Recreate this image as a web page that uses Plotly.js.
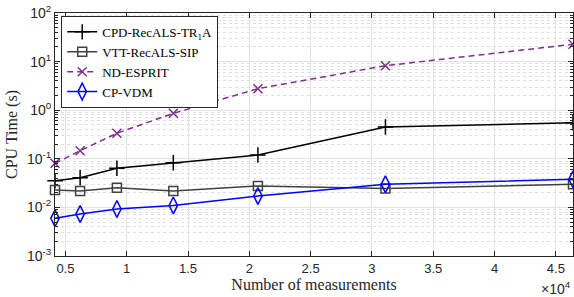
<!DOCTYPE html>
<html><head><meta charset="utf-8">
<script src="https://cdn.plot.ly/plotly-3.0.1.min.js"></script>
<style>html,body{margin:0;padding:0;background:#fff}#chart{width:574px;height:297px}</style>
</head><body><div id="chart"></div>
<script>
const measurements = [4150, 6200, 9200, 13800, 20700, 31100, 46400];
const cpdRecals = [0.0354, 0.0408, 0.0638, 0.083, 0.12, 0.451, 0.55];
const vttRecals = [0.0228, 0.0218, 0.0254, 0.0218, 0.0276, 0.0245, 0.0299];
const ndEsprit = [0.0808, 0.147, 0.335, 0.863, 2.77, 8.24, 22.7];
const cpVdm = [0.00597, 0.00731, 0.00927, 0.011, 0.0172, 0.0299, 0.0379];
const seriesNames = ['CPD-RecALS-TR<sub>1</sub>A', 'VTT-RecALS-SIP', 'ND-ESPRIT', 'CP-VDM'];
const xTickVals = [5000, 10000, 15000, 20000, 25000, 30000, 35000, 40000, 45000];
const xTickText = ['0.5', '1', '1.5', '2', '2.5', '3', '3.5', '4', '4.5'];
const yTickVals = [1e-3, 1e-2, 1e-1, 1, 10, 100];
const yTickText = ['10<sup>-3</sup>', '10<sup>-2</sup>', '10<sup>-1</sup>', '10<sup>0</sup>', '10<sup>1</sup>', '10<sup>2</sup>'];
const minorMultipliers = [2, 3, 4, 5, 6, 7, 8, 9];

const yMinorVals = [];
yTickVals.slice(0, -1).forEach(d => minorMultipliers.forEach(m => yMinorVals.push(d * m)));

const traces = [
  {x: measurements, y: cpdRecals, name: seriesNames[0], mode: 'lines+markers', cliponaxis: false,
   line: {color: '#000000', width: 1.5}, marker: {symbol: 'cross-thin-open', size: 11, color: '#000000', line: {width: 1.5, color: '#000000'}}},
  {x: measurements, y: vttRecals, name: seriesNames[1], mode: 'lines+markers', cliponaxis: false,
   line: {color: '#404040', width: 1.5}, marker: {symbol: 'square-open', size: 9, color: '#404040', line: {width: 1.5, color: '#404040'}}},
  {x: measurements, y: ndEsprit, name: seriesNames[2], mode: 'lines+markers', cliponaxis: false,
   line: {color: '#7E2F8E', width: 1.5, dash: '6px,4px'}, marker: {symbol: 'x-thin-open', size: 9, color: '#7E2F8E', line: {width: 1.5, color: '#7E2F8E'}}},
  {x: measurements, y: cpVdm, name: seriesNames[3], mode: 'lines+markers', cliponaxis: false,
   line: {color: '#0000FF', width: 1.5}, marker: {symbol: 'diamond-tall-open', size: 12, color: '#0000FF', line: {width: 1.5, color: '#0000FF'}}}
];

const layout = {
  width: 574, height: 297,
  margin: {l: 55, r: 1, t: 13, b: 41},
  paper_bgcolor: '#fff', plot_bgcolor: '#fff',
  showlegend: true,
  legend: {x: 0.012, y: 0.988, xanchor: 'left', yanchor: 'top',
    bgcolor: '#fff', bordercolor: '#262626', borderwidth: 1,
    font: {family: 'Liberation Serif, serif', size: 13, color: '#000'},
    tracegroupgap: 0, itemwidth: 30},
  xaxis: {
    type: 'linear', range: [measurements[0], measurements[measurements.length - 1]],
    tickvals: xTickVals, ticktext: xTickText,
    tickfont: {family: 'Liberation Sans, Arial, sans-serif', size: 13, color: '#262626'},
    ticks: 'inside', ticklen: 5, tickcolor: '#262626', mirror: 'ticks',
    showline: true, linecolor: '#262626', linewidth: 1,
    showgrid: true, gridcolor: '#e3e3e3', gridwidth: 1, zeroline: false,
    title: {text: 'Number of measurements', font: {family: 'Liberation Serif, serif', size: 16, color: '#262626'}, standoff: 4}
  },
  yaxis: {
    type: 'log', range: [-3, 2],
    tickvals: yTickVals, ticktext: yTickText,
    tickfont: {family: 'Liberation Sans, Arial, sans-serif', size: 14, color: '#262626'},
    ticks: 'inside', ticklen: 5, tickcolor: '#262626', mirror: 'ticks',
    showline: true, linecolor: '#262626', linewidth: 1,
    showgrid: true, gridcolor: '#e3e3e3', gridwidth: 1, zeroline: false,
    minor: {tickvals: yMinorVals, showgrid: true, gridcolor: '#dedede', griddash: 'dot', gridwidth: 1, ticks: 'inside', ticklen: 3, tickcolor: '#262626'},
    title: {text: 'CPU Time (s)', font: {family: 'Liberation Serif, serif', size: 16, color: '#262626'}, standoff: 5}
  },
  annotations: [{
    xref: 'paper', yref: 'paper', x: 1, y: 0, xanchor: 'right', yanchor: 'top', yshift: -21,
    text: '×10<sup>4</sup>', showarrow: false,
    font: {family: 'Liberation Sans, Arial, sans-serif', size: 14, color: '#262626'}
  }]
};

Plotly.newPlot('chart', traces, layout, {staticPlot: true, displayModeBar: false});
</script>
</body></html>
